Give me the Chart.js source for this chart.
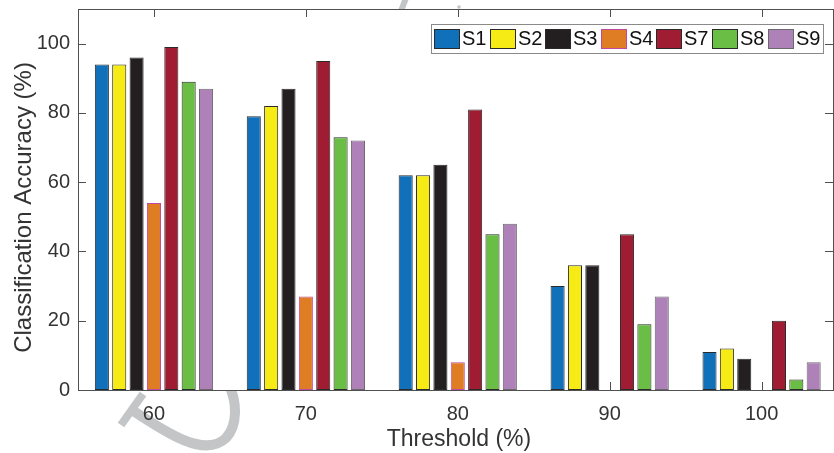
<!DOCTYPE html>
<html>
<head>
<meta charset="utf-8">
<script src="https://cdn.jsdelivr.net/npm/chart.js@4/dist/chart.umd.min.js"></script>
<style>
  html, body { margin: 0; padding: 0; background: #fff; overflow: hidden; }
  #wrap { position: relative; width: 834px; height: 453px; }
</style>
</head>
<body>
<div id="wrap"><canvas id="c" width="834" height="453"></canvas></div>
<script>
// ---- data ----
const categories = [60, 70, 80, 90, 100];
const seriesNames = ['S1', 'S2', 'S3', 'S4', 'S7', 'S8', 'S9'];
const s1 = [94, 79, 62, 30, 11];
const s2 = [94, 82, 62, 36, 12];
const s3 = [96, 87, 65, 36, 9];
const s4 = [54, 27, 8, 0, 0];
const s7 = [99, 95, 81, 45, 20];
const s8 = [89, 73, 45, 19, 3];
const s9 = [87, 72, 48, 27, 8];
const yTicks = [0, 20, 40, 60, 80, 100];
const xTitle = 'Threshold (%)';
const yTitle = 'Classification Accuracy (%)';

// ---- styles ----
const fills   = ['#1071BA', '#F6EB14', '#231F20', '#DE7D24', '#A01C32', '#6BBE45', '#AE81B8'];
const borders = ['#2a2a2a', '#2a2a2a', '#2a2a2a', '#C04AA0', '#2a2a2a', '#2a2a2a', '#6a6a6a'];
const allSeries = [s1, s2, s3, s4, s7, s8, s9];
const FONT = "'Liberation Sans', Arial, Helvetica, sans-serif";
const AXIS = '#505050';
const TXT = '#333333';

const datasets = allSeries.map((arr, i) => ({
  label: seriesNames[i],
  data: arr.map((v, j) => ({ x: categories[j], y: v })),
  backgroundColor: fills[i],
  borderColor: borders[i],
  borderWidth: 1,
  borderSkipped: false,
  categoryPercentage: 0.8,
  barPercentage: 0.81
}));

const matlabPlugin = {
  id: 'matlab',
  beforeDraw(chart) {
    const ctx = chart.ctx, a = chart.chartArea;
    ctx.save();
    ctx.fillStyle = '#fff';
    ctx.fillRect(0, 0, chart.width, chart.height);
    // watermark fragments
    ctx.strokeStyle = '#C3C5C7';
    ctx.lineCap = 'butt';
    ctx.lineWidth = 8;
    ctx.beginPath();
    ctx.moveTo(121, 425); ctx.lineTo(143, 394);
    ctx.stroke();
    ctx.lineWidth = 10;
    ctx.beginPath();
    ctx.moveTo(132, 410);
    ctx.bezierCurveTo(168, 434, 205, 458, 226, 438);
    ctx.bezierCurveTo(238, 425, 237, 402, 229, 385);
    ctx.stroke();
    ctx.lineWidth = 6;
    ctx.beginPath();
    ctx.moveTo(406, -2); ctx.lineTo(401, 11);
    ctx.stroke();
    ctx.fillStyle = '#C3C5C7';
    ctx.beginPath(); ctx.arc(459, 7, 1.8, 0, Math.PI * 2); ctx.fill();
    ctx.fillStyle = '#fff';
    ctx.fillRect(a.left, a.top, a.right - a.left, a.bottom - a.top);
    ctx.restore();
  },
  beforeDatasetsDraw(chart) {
    const ctx = chart.ctx, a = chart.chartArea;
    const xs = chart.scales.x, ys = chart.scales.y;
    const tl = 8;
    ctx.save();
    ctx.strokeStyle = AXIS;
    ctx.lineWidth = 1;
    ctx.beginPath();
    xs.ticks.forEach(t => {
      const px = Math.round(xs.getPixelForValue(t.value)) + 0.5;
      ctx.moveTo(px, a.bottom); ctx.lineTo(px, a.bottom - tl);
      ctx.moveTo(px, a.top); ctx.lineTo(px, a.top + tl);
    });
    ys.ticks.forEach(t => {
      const py = Math.round(ys.getPixelForValue(t.value)) + 0.5;
      ctx.moveTo(a.left, py); ctx.lineTo(a.left + tl, py);
      ctx.moveTo(a.right, py); ctx.lineTo(a.right - tl, py);
    });
    ctx.stroke();
    ctx.restore();
  },
  afterDatasetsDraw(chart) {
    const ctx = chart.ctx, a = chart.chartArea;
    ctx.save();
    ctx.strokeStyle = AXIS;
    ctx.lineWidth = 1;
    ctx.strokeRect(Math.round(a.left) + 0.5, Math.round(a.top) + 0.5,
                   Math.round(a.right - a.left), Math.round(a.bottom - a.top));
    // axis titles
    ctx.fillStyle = TXT;
    ctx.textBaseline = 'middle';
    ctx.textAlign = 'center';
    ctx.font = '23px ' + FONT;
    ctx.fillText(xTitle, 459, 440);
    ctx.save();
    ctx.translate(24, 207.5);
    ctx.rotate(-Math.PI / 2);
    ctx.font = '24px ' + FONT;
    ctx.fillText(yTitle, 0, 0);
    ctx.restore();
    // legend
    const lx = 431, ly = 24, lw = 392, lh = 29;
    ctx.fillStyle = '#fff';
    ctx.fillRect(lx, ly, lw, lh);
    ctx.strokeStyle = '#8a8a8a';
    ctx.strokeRect(lx + 0.5, ly + 0.5, lw, lh);
    ctx.font = '20px ' + FONT;
    ctx.textBaseline = 'middle';
    ctx.textAlign = 'left';
    chart.data.datasets.forEach((ds, i) => {
      const sx = 434 + i * 55.6;
      ctx.fillStyle = ds.backgroundColor;
      ctx.fillRect(Math.round(sx), 29, 26, 20);
      ctx.strokeStyle = ds.borderColor;
      ctx.strokeRect(Math.round(sx) + 0.5, 29.5, 25, 19);
      ctx.fillStyle = '#111';
      ctx.fillText(ds.label, Math.round(sx) + 28, 39.5);
    });
    ctx.restore();
  }
};

new Chart(document.getElementById('c'), {
  type: 'bar',
  data: { datasets },
  plugins: [matlabPlugin],
  options: {
    responsive: false,
    animation: false,
    layout: { padding: { left: 0, right: 1, top: 9, bottom: 0 } },
    plugins: { legend: { display: false }, tooltip: { enabled: false } },
    scales: {
      x: {
        type: 'linear',
        offset: false,
        min: 55, max: 104.7,
        afterBuildTicks: s => { s.ticks = categories.map(v => ({ value: v })); },
        afterFit: s => { s.height = 63; s.paddingLeft = 0; s.paddingRight = 0; },
        grid: { display: false, drawTicks: false },
        border: { display: false },
        ticks: { padding: 12, color: TXT, font: { family: FONT, size: 20 }, callback: v => String(v) },
        title: { display: false }
      },
      y: {
        min: 0, max: 110,
        afterBuildTicks: s => { s.ticks = yTicks.map(v => ({ value: v })); },
        afterFit: s => { s.width = 78; s.paddingTop = 0; s.paddingBottom = 0; },
        grid: { display: false, drawTicks: false },
        border: { display: false },
        ticks: { padding: 8, color: TXT, font: { family: FONT, size: 20 } },
        title: { display: false }
      }
    }
  }
});
</script>
</body>
</html>
